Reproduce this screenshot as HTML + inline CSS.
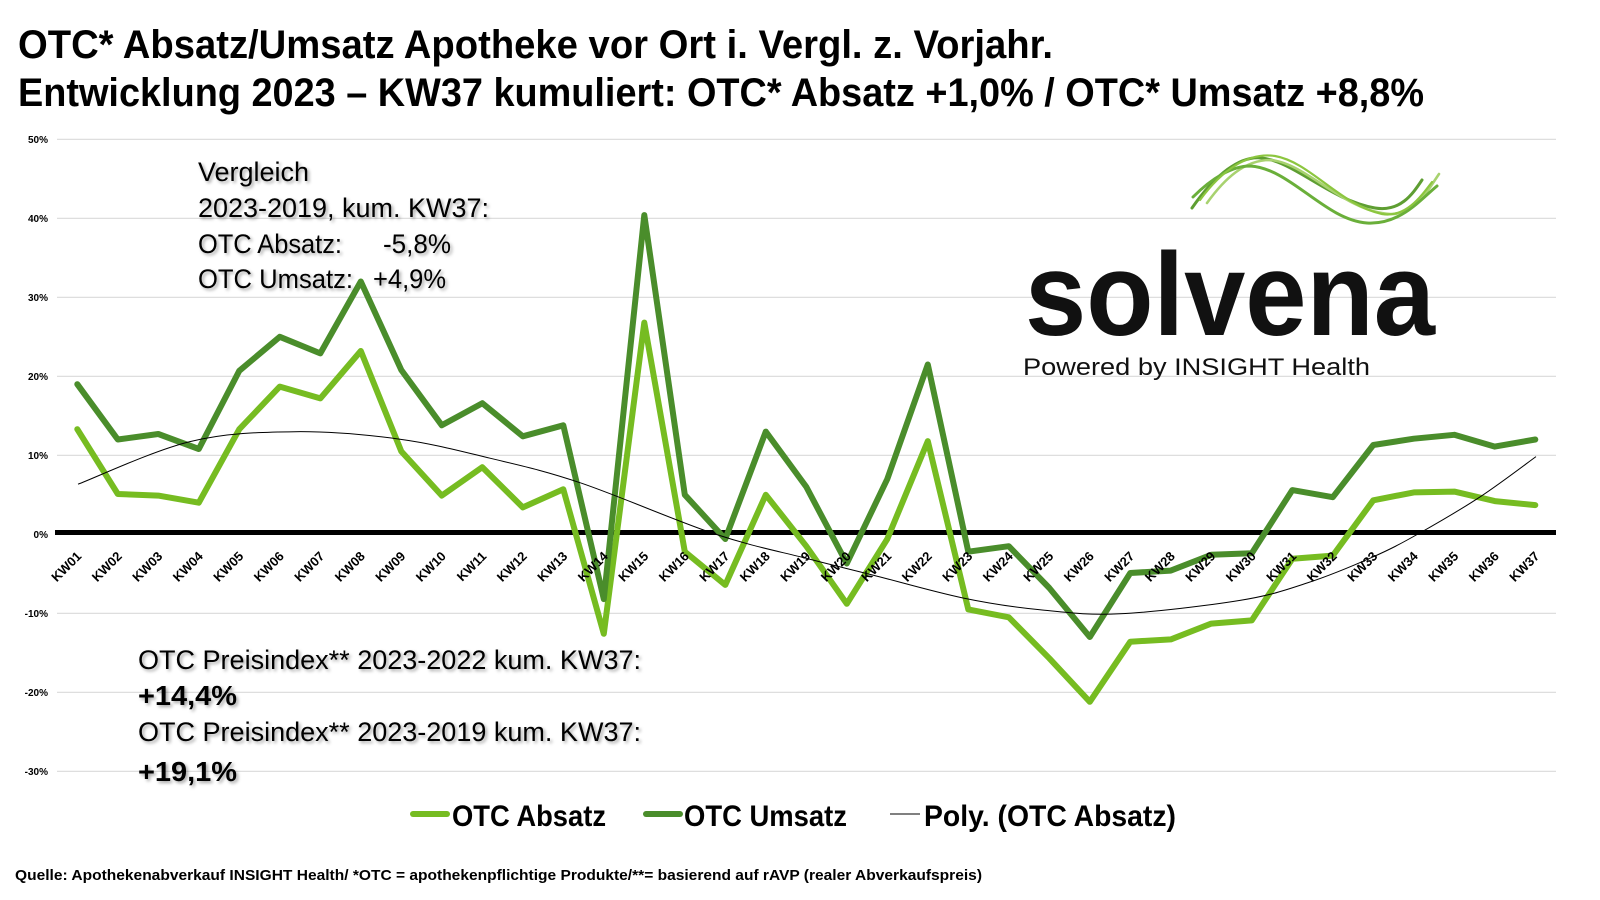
<!DOCTYPE html>
<html><head><meta charset="utf-8"><style>
html,body{margin:0;padding:0;background:#fff;}
svg{display:block;}
text{font-family:"Liberation Sans",sans-serif;}
</style></head><body>
<svg width="1600" height="900" viewBox="0 0 1600 900" xmlns="http://www.w3.org/2000/svg">
<defs>
<filter id="sh" x="-5%" y="-20%" width="110%" height="150%">
<feDropShadow dx="2" dy="2" stdDeviation="1.5" flood-color="#000" flood-opacity="0.35"/>
</filter>
</defs>
<rect width="1600" height="900" fill="#fff"/>
<!-- Title -->
<text x="18" y="58" font-size="40" font-weight="bold" textLength="1035" lengthAdjust="spacingAndGlyphs">OTC* Absatz/Umsatz Apotheke vor Ort i. Vergl. z. Vorjahr.</text>
<text x="18" y="106" font-size="40" font-weight="bold" textLength="1406" lengthAdjust="spacingAndGlyphs">Entwicklung 2023 – KW37 kumuliert: OTC* Absatz +1,0% / OTC* Umsatz +8,8%</text>

<!-- gridlines -->
<g stroke="#d9d9d9" stroke-width="1.2">
<line x1="57" x2="1556" y1="139.3" y2="139.3"/>
<line x1="57" x2="1556" y1="218.3" y2="218.3"/>
<line x1="57" x2="1556" y1="297.3" y2="297.3"/>
<line x1="57" x2="1556" y1="376.3" y2="376.3"/>
<line x1="57" x2="1556" y1="455.3" y2="455.3"/>
<line x1="57" x2="1556" y1="613.3" y2="613.3"/>
<line x1="57" x2="1556" y1="692.3" y2="692.3"/>
<line x1="57" x2="1556" y1="771.3" y2="771.3"/>
</g>
<!-- y labels -->
<g font-size="10" font-weight="bold" text-anchor="end" fill="#000">
<text x="48" y="142.8">50%</text>
<text x="48" y="221.8">40%</text>
<text x="48" y="300.8">30%</text>
<text x="48" y="379.8">20%</text>
<text x="48" y="458.8">10%</text>
<text x="48" y="537.8">0%</text>
<text x="48" y="616.8">-10%</text>
<text x="48" y="695.8">-20%</text>
<text x="48" y="774.8">-30%</text>
</g>

<!-- logo swoosh -->
<g fill="none" stroke-linecap="round">
<path d="M1192,208 C1215,175 1240,155 1262,158 C1295,162 1330,200 1375,208 C1400,212 1412,195 1422,180" stroke="#5e9e32" stroke-width="3"/>
<path d="M1207,203 C1225,178 1245,160 1270,160 C1305,162 1345,212 1390,214 C1415,215 1428,190 1439,174" stroke="#a8d26f" stroke-width="2.6"/>
<path d="M1193,197 C1212,178 1232,166 1250,166 C1290,168 1325,220 1367,223 C1400,225 1420,200 1437,186" stroke="#6aaf3a" stroke-width="3"/>
<path d="M1200,200 C1222,170 1248,152 1275,156 C1310,162 1340,205 1382,214 C1405,218 1420,198 1432,182" stroke="#8cc63f" stroke-width="2.2"/>
</g>
<!-- logo text -->
<text x="1025" y="335" font-size="118" font-weight="600" textLength="410" lengthAdjust="spacingAndGlyphs" fill="#111">solvena</text>
<text x="1023" y="375" font-size="24" textLength="347" lengthAdjust="spacingAndGlyphs" fill="#111">Powered by INSIGHT Health</text>

<!-- zero line -->
<rect x="55" y="530" width="1501" height="5" fill="#000"/>

<!-- series: Absatz (light) -->
<polyline fill="none" stroke="#76bc21" stroke-width="6" stroke-linejoin="round" stroke-linecap="round" points="77.3,429.2 117.8,494.0 158.3,495.6 198.8,502.7 239.3,429.2 279.8,386.6 320.3,398.4 360.8,351.0 401.3,451.4 441.8,495.6 482.3,467.2 522.8,507.4 563.3,489.3 603.8,633.8 644.3,322.6 684.8,551.7 725.3,584.9 765.8,494.8 806.3,546.2 846.8,603.8 887.3,539.0 927.8,441.1 968.3,609.4 1008.8,617.3 1049.3,658.3 1089.8,701.8 1130.3,641.7 1170.8,639.4 1211.3,623.6 1251.8,620.4 1292.3,558.8 1332.8,555.6 1373.3,500.3 1413.8,492.4 1454.3,491.6 1494.8,501.1 1535.3,505.1"/>
<!-- series: Umsatz (dark) -->
<polyline fill="none" stroke="#4a8d2b" stroke-width="6" stroke-linejoin="round" stroke-linecap="round" points="77.3,384.2 117.8,439.5 158.3,434.0 198.8,449.0 239.3,370.8 279.8,336.8 320.3,353.4 360.8,281.5 401.3,370.0 441.8,425.3 482.3,403.2 522.8,436.3 563.3,425.3 603.8,599.1 644.3,215.1 684.8,494.8 725.3,539.0 765.8,431.6 806.3,486.9 846.8,563.5 887.3,479.0 927.8,364.5 968.3,551.7 1008.8,546.2 1049.3,588.0 1089.8,637.0 1130.3,573.0 1170.8,570.6 1211.3,554.8 1251.8,553.3 1292.3,490.1 1332.8,497.2 1373.3,445.0 1413.8,438.7 1454.3,434.8 1494.8,446.6 1535.3,439.5"/>
<!-- trend -->
<path fill="none" stroke="#000" stroke-width="1" d="M78,484.2 C96.7,477.1 153.8,450.35 190,441.6 C226.2,432.85 260,432.1 295,431.7 C330,431.3 367.5,434.8 400,439.2 C432.5,443.6 460,450.95 490,458.2 C520,465.45 542.5,470.1 580,482.7 C617.5,495.3 677.2,521.4 715,534 C752.8,546.6 780.7,551.65 807,558.5 C833.3,565.35 847,568.5 873,575.1 C899,581.7 935.2,592.2 963,598 C990.8,603.8 1013.8,607.2 1040,609.8 C1066.2,612.4 1086.7,615.4 1120,613.8 C1153.3,612.2 1208.8,605.5 1240,600.4 C1271.2,595.3 1284.8,590.25 1307,583 C1329.2,575.75 1354.5,565.1 1373,556.9 C1391.5,548.7 1400.2,544 1418,534 C1435.8,524 1460.3,509.8 1480,496.9 C1499.7,484 1526.7,463.3 1536,456.6"/>

<!-- x labels -->
<g font-size="13" font-weight="bold" text-anchor="end" fill="#000">
<text transform="translate(82.3,557) rotate(-45)">KW01</text>
<text transform="translate(122.8,557) rotate(-45)">KW02</text>
<text transform="translate(163.3,557) rotate(-45)">KW03</text>
<text transform="translate(203.8,557) rotate(-45)">KW04</text>
<text transform="translate(244.3,557) rotate(-45)">KW05</text>
<text transform="translate(284.8,557) rotate(-45)">KW06</text>
<text transform="translate(325.3,557) rotate(-45)">KW07</text>
<text transform="translate(365.8,557) rotate(-45)">KW08</text>
<text transform="translate(406.3,557) rotate(-45)">KW09</text>
<text transform="translate(446.8,557) rotate(-45)">KW10</text>
<text transform="translate(487.3,557) rotate(-45)">KW11</text>
<text transform="translate(527.8,557) rotate(-45)">KW12</text>
<text transform="translate(568.3,557) rotate(-45)">KW13</text>
<text transform="translate(608.8,557) rotate(-45)">KW14</text>
<text transform="translate(649.3,557) rotate(-45)">KW15</text>
<text transform="translate(689.8,557) rotate(-45)">KW16</text>
<text transform="translate(730.3,557) rotate(-45)">KW17</text>
<text transform="translate(770.8,557) rotate(-45)">KW18</text>
<text transform="translate(811.3,557) rotate(-45)">KW19</text>
<text transform="translate(851.8,557) rotate(-45)">KW20</text>
<text transform="translate(892.3,557) rotate(-45)">KW21</text>
<text transform="translate(932.8,557) rotate(-45)">KW22</text>
<text transform="translate(973.3,557) rotate(-45)">KW23</text>
<text transform="translate(1013.8,557) rotate(-45)">KW24</text>
<text transform="translate(1054.3,557) rotate(-45)">KW25</text>
<text transform="translate(1094.8,557) rotate(-45)">KW26</text>
<text transform="translate(1135.3,557) rotate(-45)">KW27</text>
<text transform="translate(1175.8,557) rotate(-45)">KW28</text>
<text transform="translate(1216.3,557) rotate(-45)">KW29</text>
<text transform="translate(1256.8,557) rotate(-45)">KW30</text>
<text transform="translate(1297.3,557) rotate(-45)">KW31</text>
<text transform="translate(1337.8,557) rotate(-45)">KW32</text>
<text transform="translate(1378.3,557) rotate(-45)">KW33</text>
<text transform="translate(1418.8,557) rotate(-45)">KW34</text>
<text transform="translate(1459.3,557) rotate(-45)">KW35</text>
<text transform="translate(1499.8,557) rotate(-45)">KW36</text>
<text transform="translate(1540.3,557) rotate(-45)">KW37</text>
</g>

<!-- Vergleich block -->
<g font-size="27" fill="#000" filter="url(#sh)">
<text x="198" y="181">Vergleich</text>
<text x="198" y="217" textLength="291" lengthAdjust="spacingAndGlyphs">2023-2019, kum. KW37:</text>
<text x="198" y="253" textLength="144" lengthAdjust="spacingAndGlyphs">OTC Absatz:</text>
<text x="383" y="253" textLength="68" lengthAdjust="spacingAndGlyphs">-5,8%</text>
<text x="198" y="288" textLength="155" lengthAdjust="spacingAndGlyphs">OTC Umsatz:</text>
<text x="373" y="288" textLength="73" lengthAdjust="spacingAndGlyphs">+4,9%</text>
</g>

<!-- Preisindex block -->
<g fill="#000" filter="url(#sh)">
<text x="138" y="669" font-size="27" textLength="503" lengthAdjust="spacingAndGlyphs">OTC Preisindex** 2023-2022 kum. KW37:</text>
<text x="138" y="705" font-size="28" font-weight="bold" textLength="99" lengthAdjust="spacingAndGlyphs">+14,4%</text>
<text x="138" y="741" font-size="27" textLength="503" lengthAdjust="spacingAndGlyphs">OTC Preisindex** 2023-2019 kum. KW37:</text>
<text x="138" y="781" font-size="28" font-weight="bold" textLength="99" lengthAdjust="spacingAndGlyphs">+19,1%</text>
</g>

<!-- legend -->
<line x1="413" x2="447" y1="814" y2="814" stroke="#76bc21" stroke-width="6" stroke-linecap="round"/>
<text x="452" y="826" font-size="30" font-weight="bold" textLength="154" lengthAdjust="spacingAndGlyphs">OTC Absatz</text>
<line x1="646" x2="680" y1="814" y2="814" stroke="#4a8d2b" stroke-width="6" stroke-linecap="round"/>
<text x="684" y="826" font-size="30" font-weight="bold" textLength="163" lengthAdjust="spacingAndGlyphs">OTC Umsatz</text>
<line x1="890" x2="920" y1="814" y2="814" stroke="#000" stroke-width="1"/>
<text x="924" y="826" font-size="30" font-weight="bold" textLength="252" lengthAdjust="spacingAndGlyphs">Poly. (OTC Absatz)</text>

<!-- footnote -->
<text x="15" y="880" font-size="15" font-weight="bold" textLength="967" lengthAdjust="spacingAndGlyphs">Quelle: Apothekenabverkauf INSIGHT Health/ *OTC = apothekenpflichtige Produkte/**= basierend auf rAVP (realer Abverkaufspreis)</text>
</svg>
</body></html>
